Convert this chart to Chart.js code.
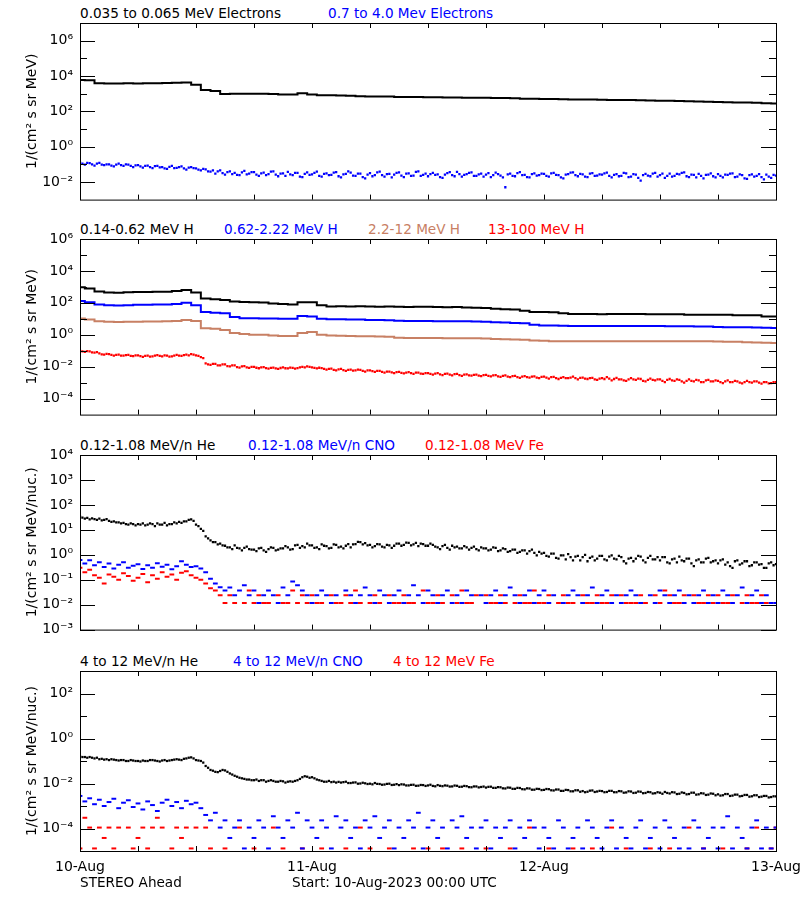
<!DOCTYPE html>
<html>
<head>
<meta charset="utf-8">
<script src="https://cdn.jsdelivr.net/npm/chart.js@4.4.1/dist/chart.umd.min.js"></script>
<style>
html,body{margin:0;padding:0;background:#fff;}
#wrap{position:relative;width:800px;height:900px;overflow:hidden;font-family:"DejaVu Sans",sans-serif;font-size:13.6px;color:#000;}
#wrap canvas{position:absolute;left:0;}
.t{position:absolute;white-space:nowrap;line-height:15px;}
.k{color:#000}.b{color:#0000ff}.n{color:rgb(200,128,100)}.r{color:#ff0000}
</style>
</head>
<body>
<div id="wrap">
  <span class="t k" style="left:80px;top:6px">0.035 to 0.065 MeV Electrons</span>
  <span class="t b" style="left:328px;top:6px">0.7 to 4.0 Mev Electrons</span>
  <canvas id="p1" width="800" height="215" style="top:0px"></canvas>

  <span class="t k" style="left:80px;top:222px">0.14-0.62 MeV H</span>
  <span class="t b" style="left:224px;top:222px">0.62-2.22 MeV H</span>
  <span class="t n" style="left:368px;top:222px">2.2-12 MeV H</span>
  <span class="t r" style="left:488px;top:222px">13-100 MeV H</span>
  <canvas id="p2" width="800" height="215" style="top:215px"></canvas>

  <span class="t k" style="left:80px;top:438px">0.12-1.08 MeV/n He</span>
  <span class="t b" style="left:248px;top:438px">0.12-1.08 MeV/n CNO</span>
  <span class="t r" style="left:425px;top:438px">0.12-1.08 MeV Fe</span>
  <canvas id="p3" width="800" height="215" style="top:430px"></canvas>

  <span class="t k" style="left:80px;top:654px">4 to 12 MeV/n He</span>
  <span class="t b" style="left:233px;top:654px">4 to 12 MeV/n CNO</span>
  <span class="t r" style="left:393px;top:654px">4 to 12 MeV Fe</span>
  <canvas id="p4" width="800" height="255" style="top:645px"></canvas>

  <span class="t k" style="left:80px;top:875px">STEREO Ahead</span>
  <span class="t k" style="left:292px;top:875px">Start: 10-Aug-2023 00:00 UTC</span>
</div>
<script>
// ---------- DATA (hours since 10-Aug-2023 00:00 UTC) ----------
const dayTicks = [0, 24, 48, 72];
const dayLabels = ['10-Aug', '11-Aug', '12-Aug', '13-Aug'];
const sixHourTicks = [0, 6, 12, 18, 24, 30, 36, 42, 48, 54, 60, 66, 72];

// panel 1 : electrons (hourly line, 15-min dots)
const eLow = [6000,5800,3900,3700,3800,3900,3800,3900,3900,4000,
  4100,4300,3200,1600,1400,950,1000,1000,1000,980,
  950,900,880,1050,900,820,800,780,760,720,
  700,690,680,650,640,640,630,620,600,600,
  590,590,580,570,560,540,520,510,500,490,
  480,470,470,460,450,440,440,430,420,410,
  400,390,380,370,360,350,340,330,320,310,
  300,290,280];
const eHigh = [
  0.13,0.11,0.095,0.12,0.115,0.1,0.085,0.11,0.12,0.095,0.09,0.1,0.1,0.085,0.075,0.095,0.11,0.09,0.082,0.1,0.095,0.08,0.07,0.088,
  0.09,0.075,0.065,0.08,0.085,0.07,0.06,0.078,0.08,0.066,0.07,0.058,0.055,0.072,0.082,0.06,0.062,0.07,0.075,0.058,0.05,0.065,0.07,0.06,
  0.058,0.05,0.045,0.055,0.052,0.04,0.038,0.045,0.03,0.04,0.045,0.032,0.026,0.036,0.04,0.028,0.033,0.025,0.024,0.035,0.042,0.027,0.03,0.036,
  0.036,0.026,0.022,0.031,0.034,0.024,0.028,0.038,0.04,0.026,0.021,0.03,0.031,0.022,0.037,0.027,0.024,0.033,0.033,0.02,0.019,0.029,0.035,0.025,
  0.027,0.033,0.038,0.022,0.02,0.029,0.031,0.024,0.025,0.034,0.036,0.021,0.018,0.027,0.029,0.04,0.034,0.023,0.022,0.03,0.03,0.019,0.016,0.026,
  0.032,0.021,0.024,0.035,0.038,0.024,0.02,0.028,0.029,0.018,0.026,0.033,0.035,0.023,0.019,0.03,0.031,0.022,0.023,0.037,0.04,0.022,0.025,0.03,
  0.021,0.028,0.033,0.025,0.027,0.019,0.017,0.026,0.032,0.036,0.024,0.021,0.037,0.028,0.02,0.025,0.028,0.033,0.035,0.022,0.022,0.027,0.03,0.02,
  0.026,0.032,0.019,0.024,0.034,0.028,0.023,0.018,0.005,0.027,0.03,0.022,0.021,0.032,0.036,0.024,0.025,0.019,0.018,0.028,0.031,0.023,0.024,0.03,
  0.029,0.022,0.02,0.031,0.033,0.025,0.024,0.018,0.016,0.026,0.028,0.034,0.035,0.024,0.021,0.029,0.027,0.02,0.019,0.03,0.032,0.022,0.023,0.027,
  0.026,0.031,0.034,0.022,0.018,0.025,0.028,0.021,0.022,0.033,0.031,0.019,0.02,0.028,0.026,0.017,0.012,0.024,0.029,0.023,0.021,0.03,0.033,0.02,
  0.024,0.03,0.017,0.022,0.03,0.02,0.022,0.029,0.027,0.033,0.035,0.021,0.019,0.026,0.025,0.018,0.029,0.022,0.016,0.025,0.026,0.031,0.021,0.018,
  0.028,0.022,0.018,0.026,0.025,0.03,0.031,0.019,0.02,0.027,0.024,0.016,0.015,0.024,0.027,0.02,0.022,0.028,0.019,0.014,0.026,0.02,0.017,0.025,
  0.023];

// panel 2 : protons (hourly lines, 15-min dots)
const hLow = [950,800,520,440,430,460,480,480,490,490,
  560,650,450,190,170,150,120,115,110,105,
  90,85,80,110,110,70,60,62,60,62,
  60,58,60,56,55,56,56,55,54,55,
  52,50,48,42,40,38,32,27,27,26,
  22,20,20,20,19,20,20,20,20,19,
  19,19,19,18,18,18,18,18,17,17,
  17,14,14];
const hMid = [130,110,80,70,68,72,75,75,78,78,
  85,100,70,27,24,22,13,11,11,10.5,
  10.5,10,10,15,14,10,9.5,9.5,9,9,
  8.5,8.5,8,7.5,7.2,7.2,7.2,7,7,7,
  7,6.8,6.5,6,5.8,5.5,5.2,4.2,3.8,3.8,
  3.7,3.6,3.6,3.6,3.5,3.5,3.6,3.6,3.5,3.5,
  3.5,3.4,3.4,3.4,3.3,3.3,3.1,3.0,3.0,3.0,
  2.9,2.8,2.7];
const hHigh = [10.5,9,7,6.5,6.4,6.6,6.6,6.8,6.8,7,
  7.2,8.5,7.2,2.6,2.4,2.0,1.3,1.1,1.0,1.0,
  0.9,0.85,0.85,1.3,1.5,1.0,0.9,0.88,0.85,0.82,
  0.8,0.78,0.75,0.65,0.63,0.63,0.62,0.62,0.6,0.6,
  0.6,0.6,0.58,0.55,0.52,0.5,0.48,0.44,0.42,0.4,
  0.4,0.4,0.4,0.4,0.4,0.4,0.4,0.4,0.4,0.4,
  0.4,0.4,0.4,0.4,0.4,0.39,0.38,0.37,0.36,0.34,
  0.33,0.32,0.31];
const hTop = [
  0.1,0.092,0.085,0.095,0.092,0.08,0.075,0.082,0.068,0.06,0.058,0.064,0.062,0.055,0.05,0.056,0.058,0.05,0.049,0.054,0.055,0.048,0.046,0.052,
  0.052,0.046,0.042,0.048,0.05,0.043,0.044,0.05,0.053,0.047,0.045,0.051,0.05,0.043,0.044,0.049,0.055,0.05,0.048,0.054,0.058,0.052,0.062,0.057,
  0.052,0.047,0.04,0.034,0.016,0.014,0.013,0.015,0.015,0.012,0.012,0.014,0.014,0.011,0.0105,0.012,0.012,0.0095,0.0088,0.0105,0.011,0.0092,0.0085,0.0096,
  0.0098,0.0086,0.008,0.0092,0.0095,0.0082,0.0075,0.0085,0.0088,0.0078,0.0072,0.0083,0.009,0.008,0.0078,0.0088,0.0085,0.0076,0.0082,0.009,0.0098,0.0092,0.0105,0.0098,
  0.0092,0.0085,0.0078,0.0086,0.0082,0.0072,0.0066,0.0074,0.0075,0.0064,0.0058,0.0068,0.0072,0.0062,0.0055,0.0063,0.0066,0.0056,0.0058,0.0065,0.0064,0.0055,0.005,0.0058,
  0.0058,0.0052,0.0048,0.0055,0.0055,0.0047,0.0043,0.0049,0.005,0.0044,0.004,0.0046,0.0047,0.0041,0.0038,0.0043,0.0046,0.0039,0.0036,0.0042,0.0042,0.0037,0.0035,0.0039,
  0.004,0.0035,0.0032,0.0037,0.0039,0.0033,0.003,0.0035,0.0037,0.0032,0.0029,0.0034,0.0035,0.003,0.0027,0.0032,0.0033,0.0029,0.0028,0.0031,0.0032,0.0028,0.0026,0.003,
  0.0031,0.0027,0.0025,0.0029,0.003,0.0025,0.0023,0.0027,0.0029,0.0024,0.0022,0.0026,0.0027,0.0022,0.002,0.0024,0.0026,0.0022,0.0021,0.0024,0.0025,0.0021,0.0019,0.0023,
  0.0024,0.0021,0.0018,0.0022,0.0023,0.0019,0.0017,0.002,0.0022,0.0019,0.0019,0.0021,0.0024,0.0019,0.0016,0.002,0.0021,0.0018,0.0017,0.0019,0.002,0.0016,0.0015,0.0018,
  0.0019,0.0017,0.0022,0.0018,0.0014,0.0017,0.002,0.0016,0.0016,0.0014,0.0013,0.0016,0.0019,0.0016,0.0015,0.0018,0.0017,0.0013,0.0012,0.0015,0.0018,0.0015,0.0014,0.0016,
  0.0016,0.0013,0.0011,0.0015,0.0017,0.0014,0.0013,0.0016,0.0015,0.0012,0.001,0.0013,0.0016,0.0013,0.0012,0.0015,0.0014,0.0011,0.0011,0.0014,0.0015,0.0012,0.0012,0.0014,
  0.0013,0.0011,0.00095,0.0012,0.0014,0.0011,0.0011,0.0013,0.0012,0.001,0.0009,0.0011,0.0013,0.0011,0.001,0.0012,0.0012,0.001,0.00088,0.0011,0.0011,0.0009,0.00095,0.0011,
  0.0011];

// panel 3 : 0.12-1.08 MeV/n ions (He 15-min, CNO/Fe half-hourly)
const heLow = [
  35,31,28,30,26,29,27,25,28,24,25,27,23,21,22,20,20,18,19,17,16,18,17,15,
  17,16,18,15,16,18,17,14,18,16,16,19,15,17,17,20,18,21,19,22,22,25,26,23,
  16,14,11,9,5.5,4.5,3.8,3.2,3.2,2.6,2.8,2.4,2.3,2.0,2.0,1.7,2.4,1.9,1.8,1.5,1.9,2.1,1.7,1.6,
  1.6,1.4,1.8,1.9,1.5,1.3,1.7,2.0,1.9,1.5,1.6,1.8,1.8,2.2,2.0,1.6,1.7,2.4,2.5,1.9,2.2,2.0,2.8,2.4,
  2.4,1.9,2.0,1.7,2.6,2.3,2.2,1.8,1.9,2.6,2.5,2.0,2.1,1.8,2.3,2.7,2.0,2.6,2.7,3.3,3.2,2.6,2.9,2.4,
  2.5,2.0,2.2,2.7,2.6,2.1,2.0,2.5,2.4,1.9,2.3,2.8,2.8,2.3,2.5,3.1,3.0,2.4,2.6,3.0,2.2,2.8,2.7,2.3,
  2.3,2.8,2.5,2.1,2.0,1.7,2.2,2.5,1.9,1.6,2.3,2.0,2.1,1.8,1.8,2.2,2.0,1.6,1.9,2.1,1.7,1.5,2.0,1.8,
  1.8,1.5,1.6,2.0,1.9,1.4,1.5,1.8,1.7,1.3,1.4,1.6,1.6,1.2,1.3,1.5,1.5,1.1,1.4,1.6,1.2,0.95,1.3,1.1,
  1.2,0.9,0.85,1.1,1.1,0.75,0.7,0.95,0.95,0.65,1.05,0.8,0.6,0.85,0.9,0.6,0.8,1.0,0.55,0.75,0.85,0.6,0.7,0.9,
  0.9,0.65,0.6,0.85,0.95,0.7,0.65,0.9,0.8,0.55,0.45,0.7,0.75,0.55,0.7,0.9,0.85,0.6,0.5,0.75,0.9,0.65,0.65,0.8,
  0.6,0.8,0.8,0.5,0.45,0.65,0.7,0.5,0.85,0.6,0.55,0.7,0.7,0.45,0.35,0.6,0.65,0.5,0.5,0.7,0.75,0.5,0.55,0.6,
  0.45,0.6,0.65,0.4,0.5,0.35,0.3,0.55,0.6,0.4,0.45,0.55,0.55,0.35,0.38,0.5,0.5,0.4,0.42,0.3,0.3,0.45,0.5,0.38,
  0.42];
const cnoLow = [0.62,0.45,0.6,0.38,0.5,0.32,0.45,0.28,0.4,0.5,0.3,0.36,
  0.42,0.27,0.38,0.3,0.46,0.33,0.4,0.26,0.35,0.55,0.4,0.32,
  0.35,0.28,0.2,0.11,0.07,0.05,0.037,0.049,0.024,0.037,0.06,0.024,
  0.037,0.0116,0.024,0.037,0.024,0.0116,0.049,0.024,0.085,0.06,0.037,0.024,
  0.0116,0.024,0.037,0.024,0.0116,0.024,null,0.037,0.024,0.0116,0.024,0.049,
  0.024,0.0116,0.037,0.024,0.0116,0.024,0.037,0.0116,0.024,0.06,0.024,0.0116,
  0.037,0.024,0.0116,0.024,0.037,0.0116,0.024,0.0116,0.037,0.024,null,0.024,
  0.0116,0.024,0.037,0.0116,0.024,0.049,0.024,0.0116,0.024,0.037,0.0116,0.024,
  0.037,0.0116,0.024,null,0.0116,0.024,0.037,0.024,0.0116,0.024,0.049,0.0116,
  0.024,0.037,0.0116,0.024,0.0116,0.024,0.037,0.024,0.0116,null,0.024,0.0116,
  0.037,0.024,0.0116,0.024,0.037,0.0116,0.024,0.0116,0.024,0.037,0.0116,0.024,
  0.0116,0.037,0.024,0.0116,0.024,0.049,0.0116,0.024,0.037,0.0116,0.024,0.0116,
  0.0116];
const feLow = [0.3,0.2,0.25,0.15,0.12,0.07,0.16,0.13,0.1,0.18,0.14,0.09,
  0.12,0.17,0.08,0.15,0.11,0.2,0.13,0.16,0.1,0.19,0.22,0.15,
  0.12,0.1,0.07,0.045,0.037,0.024,0.0116,0.024,0.0116,null,0.0116,0.037,
  0.0116,0.024,0.0116,0.0116,null,0.024,0.0116,0.0116,0.037,0.0116,0.024,0.0116,
  0.024,0.0116,0.0116,null,0.024,0.0116,0.0116,0.024,0.0116,0.037,0.0116,null,
  0.0116,0.024,0.0116,null,0.024,0.0116,0.0116,0.024,0.0116,0.0116,null,0.037,
  0.0116,0.0116,0.024,0.0116,null,0.024,0.0116,0.037,0.0116,0.0116,0.024,null,
  0.024,0.0116,0.0116,0.024,0.0116,null,0.0116,0.024,0.0116,0.0116,0.037,0.0116,
  0.0116,0.024,null,0.0116,0.024,0.0116,0.0116,null,0.024,0.0116,0.0116,0.024,
  0.0116,0.0116,0.024,null,0.024,0.0116,0.0116,0.0116,0.024,0.0116,null,0.024,
  0.0116,0.037,0.024,0.0116,0.0116,0.024,null,0.024,0.0116,0.0116,0.024,0.0116,
  0.024,0.0116,0.0116,0.024,null,0.0116,0.024,0.0116,0.0116,0.024,0.0116,null,
  0.0116];

// panel 4 : 4-12 MeV/n ions (He 15-min, CNO/Fe half-hourly)
const heHigh = [
  0.16,0.15,0.15,0.14,0.15,0.14,0.13,0.14,0.12,0.125,0.115,0.12,0.11,0.12,0.115,0.11,0.105,0.11,0.11,0.1,0.1,0.11,0.105,0.1,
  0.1,0.095,0.105,0.1,0.1,0.11,0.11,0.105,0.1,0.095,0.105,0.11,0.1,0.105,0.11,0.115,0.12,0.115,0.11,0.125,0.13,0.14,0.145,0.13,
  0.11,0.105,0.1,0.085,0.06,0.05,0.04,0.037,0.033,0.032,0.036,0.04,0.038,0.033,0.028,0.025,0.022,0.02,0.018,0.017,0.016,0.015,0.015,0.014,
  0.014,0.015,0.013,0.014,0.014,0.012,0.013,0.014,0.013,0.012,0.012,0.013,0.0125,0.011,0.012,0.0125,0.012,0.013,0.014,0.016,0.019,0.021,0.02,0.018,
  0.019,0.017,0.015,0.014,0.013,0.012,0.012,0.013,0.0115,0.012,0.011,0.0118,0.011,0.0115,0.012,0.0105,0.0105,0.011,0.0112,0.0098,0.01,0.0108,0.0102,0.0095,
  0.0098,0.0092,0.0105,0.0096,0.0095,0.0088,0.009,0.0096,0.0098,0.0086,0.0088,0.0094,0.0085,0.0092,0.009,0.0082,0.0082,0.0087,0.0088,0.0079,0.008,0.0086,0.0085,0.0078,
  0.0082,0.0088,0.0078,0.0075,0.0085,0.0079,0.0076,0.0082,0.008,0.0073,0.0074,0.0081,0.0079,0.0071,0.0072,0.0078,0.0076,0.0069,0.0068,0.0074,0.0074,0.0067,0.007,0.0073,
  0.0066,0.0071,0.0072,0.0064,0.0064,0.0069,0.0068,0.0061,0.006,0.0066,0.0065,0.0058,0.0058,0.0064,0.0063,0.0056,0.0055,0.0061,0.006,0.0053,0.0053,0.0058,0.0057,0.0051,
  0.0052,0.0057,0.0056,0.005,0.0049,0.0054,0.0054,0.0047,0.0047,0.0052,0.0051,0.0045,0.0045,0.005,0.005,0.0043,0.0046,0.0041,0.0043,0.0048,0.0049,0.0042,0.0044,0.0047,
  0.0046,0.0041,0.0042,0.0047,0.0047,0.0041,0.0041,0.0046,0.0045,0.0039,0.004,0.0045,0.0044,0.0038,0.0039,0.0044,0.0043,0.0037,0.0038,0.0042,0.0041,0.0036,0.0037,0.0041,
  0.0039,0.0035,0.0042,0.0038,0.0036,0.0041,0.004,0.0034,0.0035,0.004,0.0038,0.0033,0.0034,0.0039,0.0039,0.0032,0.0033,0.0037,0.0036,0.0031,0.0032,0.0036,0.0035,0.003,
  0.0033,0.0029,0.003,0.0034,0.0034,0.0028,0.0029,0.0032,0.0032,0.0027,0.0028,0.0031,0.0031,0.0026,0.0027,0.003,0.003,0.0025,0.0026,0.0028,0.0028,0.0024,0.0025,0.0027,
  0.0027];
const cnoHigh = [2.8e-3,1.6e-3,2.2e-3,1.2e-3,1.9e-3,1e-3,1.5e-3,2.1e-3,8e-4,1.4e-3,1.8e-3,9e-4,
  1.3e-3,7e-4,1.6e-3,1.1e-3,6e-4,1.4e-3,1.9e-3,1e-3,1.5e-3,8e-4,1.7e-3,1.2e-3,
  1.4e-3,8e-4,4e-4,2.3e-4,5e-4,1.1e-4,2.3e-4,3.8e-5,1.1e-4,2.3e-4,1.3e-5,1.1e-4,
  3.8e-5,2.3e-4,1.1e-4,1.3e-5,3.5e-4,1.1e-4,3.8e-5,2.3e-4,1.1e-4,5e-4,1.3e-5,2.3e-4,
  1.1e-4,3.8e-5,2.3e-4,1.1e-4,1.3e-5,3.5e-4,1.1e-4,2.3e-4,3.8e-5,1.1e-4,1.3e-5,2.3e-4,
  1.1e-4,3.5e-4,3.8e-5,1.1e-4,2.3e-4,1.3e-5,1.1e-4,3.8e-5,2.3e-4,1.1e-4,5e-4,1.3e-5,
  1.1e-4,2.3e-4,3.8e-5,1.1e-4,1.3e-5,2.3e-4,1.1e-4,3.5e-4,3.8e-5,1.1e-4,1.3e-5,1.1e-4,
  2.3e-4,1.3e-5,1.1e-4,3.8e-5,1.1e-4,2.3e-4,1.3e-5,1.1e-4,3.8e-5,2.3e-4,1.1e-4,1.3e-5,
  1.1e-4,3.8e-5,1.3e-5,2.3e-4,1.1e-4,1.3e-5,3.8e-5,1.1e-4,1.3e-5,2.3e-4,1.1e-4,3.8e-5,
  1.3e-5,1.1e-4,2.3e-4,1.3e-5,1.1e-4,3.8e-5,1.3e-5,1.1e-4,2.3e-4,1.3e-5,3.8e-5,1.1e-4,
  1.3e-5,2.3e-4,1.1e-4,3.8e-5,1.3e-5,1.1e-4,1.3e-5,2.3e-4,1.1e-4,1.3e-5,3.8e-5,1.1e-4,
  1.3e-5,1.1e-4,3.5e-4,1.3e-5,1.1e-4,3.8e-5,1.3e-5,1.1e-4,2.3e-4,1.3e-5,1.1e-4,1.3e-5,
  1.1e-4];
const feHigh = [1.3e-5,3e-4,1.1e-4,1.3e-5,1.1e-4,3.8e-5,1.1e-4,1.3e-5,1.1e-4,null,1.1e-4,1.3e-5,
  3.8e-5,1.1e-4,1.3e-5,1.1e-4,3e-4,1.1e-4,null,1.3e-5,1.1e-4,3.8e-5,1.1e-4,1.3e-5,
  1.1e-4,null,1.1e-4,1.3e-5,null,null,1.3e-5,null,null,1.1e-4,null,null,
  1.3e-5,null,null,null,1.1e-4,null,1.3e-5,null,null,null,1.3e-5,null,
  null,null,1.3e-5,null,null,null,null,1.3e-5,null,null,1.1e-4,null,
  1.3e-5,null,null,null,1.3e-5,null,null,null,null,1.3e-5,null,null,
  1.3e-5,null,null,1.3e-5,null,null,null,1.3e-5,null,null,null,null,
  1.3e-5,null,null,null,null,1.3e-5,null,null,null,1.1e-4,null,null,
  null,1.3e-5,null,null,null,null,1.3e-5,null,null,null,1.3e-5,null,
  null,null,1.1e-4,null,null,1.3e-5,null,null,null,null,1.3e-5,null,
  null,null,1.3e-5,null,null,null,1.1e-4,null,null,1.3e-5,null,null,
  null,1.3e-5,null,null,null,null,1.3e-5,null,1.1e-4,null,null,1.3e-5,
  1.1e-4];

// ---------- HELPERS ----------
const FONT = 'DejaVu Sans';
Chart.defaults.font.family = FONT;
Chart.defaults.color = '#000';
const TAN = 'rgb(200,128,100)';
const SUP = {'0':'⁰','1':'¹','2':'²','3':'³','4':'⁴','5':'⁵','6':'⁶','7':'⁷','8':'⁸','9':'⁹','-':'⁻'};
const pow10 = v => '10' + String(Math.round(Math.log10(v))).split('').map(c => SUP[c]).join('');
// samples are evenly spaced over the 72 h window
const pts = vals => vals.map((v, i) => ({x: i * 72 / (vals.length - 1), y: v}));

function line(vals, color){
  return {data: pts(vals), borderColor: color, backgroundColor: color, borderWidth: 2,
    stepped: 'middle', pointRadius: 0, showLine: true, spanGaps: false};
}
function dots(vals, color){
  return {data: pts(vals), backgroundColor: color, borderColor: color, borderWidth: 0,
    pointStyle: 'rect', pointRadius: 1.6, showLine: false};
}
function dashes(vals, color){
  return {data: pts(vals), backgroundColor: color, borderColor: color, borderWidth: 2,
    pointStyle: 'line', pointRadius: 2.4, showLine: false};
}

// box + inward ticks, like the original plot
const frame = {
  id: 'frame',
  afterDatasetsDraw(chart, args, o){
    const {ctx, chartArea: a, scales: {x, y}} = chart;
    ctx.save();
    ctx.strokeStyle = '#000'; ctx.lineWidth = 1;
    ctx.strokeRect(a.left + 0.5, a.top + 0.5, a.right - a.left, a.bottom - a.top);
    ctx.beginPath();
    const yt = (v, len) => {
      const py = Math.round(y.getPixelForValue(v)) + 0.5;
      ctx.moveTo(a.left, py); ctx.lineTo(a.left + len, py);
      ctx.moveTo(a.right, py); ctx.lineTo(a.right - len, py);
    };
    o.majors.forEach(v => yt(v, 15));
    (o.minors || []).forEach(v => yt(v, 7));
    sixHourTicks.forEach(h => {
      const px = Math.round(x.getPixelForValue(h)) + 0.5;
      ctx.moveTo(px, a.top); ctx.lineTo(px, a.top + 5);
      ctx.moveTo(px, a.bottom); ctx.lineTo(px, a.bottom - 5);
    });
    ctx.stroke();
    ctx.restore();
  }
};

function panel(id, cfg){
  const xScale = {type: 'linear', min: 0, max: 72, display: false};
  if (cfg.showDates) {
    Object.assign(xScale, {
      display: true,
      grid: {display: false, drawTicks: false}, border: {display: false},
      afterBuildTicks: s => { s.ticks = dayTicks.map(v => ({value: v})); },
      afterFit: s => { s.height = cfg.bottom; s.paddingLeft = 0; s.paddingRight = 0; },
      ticks: {autoSkip: false, maxRotation: 0, padding: 8, font: {size: 14},
        callback: v => dayLabels[dayTicks.indexOf(v)]}
    });
  }
  return new Chart(document.getElementById(id), {
    type: 'line',
    data: {datasets: cfg.datasets},
    plugins: [frame],
    options: {
      responsive: false, animation: false, devicePixelRatio: 1,
      layout: {padding: {left: 0, right: 24, top: cfg.top, bottom: cfg.showDates ? 0 : cfg.bottom}},
      plugins: {legend: {display: false}, tooltip: {enabled: false}, frame: {majors: cfg.majors, minors: cfg.minors}},
      scales: {
        x: xScale,
        y: {
          type: 'logarithmic', min: cfg.min, max: cfg.max,
          grid: {display: false, drawTicks: false}, border: {display: false},
          afterBuildTicks: s => { s.ticks = cfg.majors.map(v => ({value: v})); },
          afterFit: s => { s.width = 80; },
          ticks: {autoSkip: false, padding: 7, font: {size: 14}, callback: v => pow10(v)},
          title: {display: true, text: cfg.ytitle, font: {size: 14}, padding: {top: 24, bottom: 0}}
        }
      }
    }
  });
}

// ---------- CHARTS ----------
panel('p1', {
  top: 23, bottom: 12, min: 1e-3, max: 1e7,
  majors: [1e-2, 1, 1e2, 1e4, 1e6], minors: [1e-1, 10, 1e3, 1e5],
  ytitle: '1/(cm² s sr MeV)',
  datasets: [line(eLow, '#000'), dots(eHigh, '#0000ff')]
});
panel('p2', {
  top: 24, bottom: 11, min: 1e-5, max: 1e6,
  majors: [1e-4, 1e-2, 1, 1e2, 1e4, 1e6], minors: [1e-3, 1e-1, 10, 1e3, 1e5],
  ytitle: '1/(cm² s sr MeV)',
  datasets: [dots(hTop, '#ff0000'), line(hHigh, TAN), line(hMid, '#0000ff'), line(hLow, '#000')]
});
panel('p3', {
  top: 25, bottom: 10, min: 1e-3, max: 1e4,
  majors: [1e-3, 1e-2, 1e-1, 1, 10, 100, 1e3, 1e4], minors: [],
  ytitle: '1/(cm² s sr MeV/nuc.)',
  datasets: [dots(heLow, '#000'), dashes(cnoLow, '#0000ff'), dashes(feLow, '#ff0000')]
});
panel('p4', {
  top: 26, bottom: 49, min: 1e-5, max: 1e3, showDates: true,
  majors: [1e-4, 1e-2, 1, 100], minors: [1e-3, 1e-1, 10],
  ytitle: '1/(cm² s sr MeV/nuc.)',
  datasets: [dots(heHigh, '#000'), dashes(cnoHigh, '#0000ff'), dashes(feHigh, '#ff0000')]
});
</script>
</body>
</html>
